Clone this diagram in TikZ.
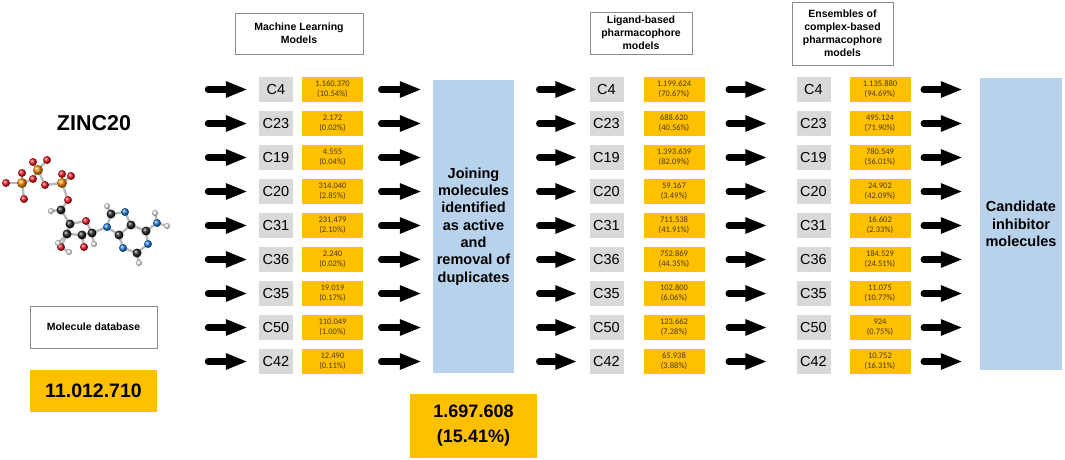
\documentclass[tikz,border=0pt]{standalone}
\usepackage{fontspec}
\setmainfont{Liberation Sans}
\newfontfamily\calfont{Carlito}
\usetikzlibrary{arrows.meta,shadings}
\definecolor{cyel}{HTML}{FFC000}
\definecolor{cgray}{HTML}{D9D9D9}
\definecolor{cblue}{HTML}{B9D2EC}
\definecolor{ytext}{HTML}{4A3810}
\definecolor{hdrline}{HTML}{8C8C8C}
\definecolor{atO}{HTML}{E81820}
\definecolor{atP}{HTML}{F08A00}
\definecolor{atC}{HTML}{222222}
\definecolor{atN}{HTML}{1E7AD8}
\definecolor{atH}{HTML}{F0F0F0}
\tikzset{
  hdr/.style={draw=hdrline, line width=0.9pt, fill=white, align=center, inner sep=0pt,
    font=\bfseries\fontsize{10.5}{13}\selectfont},
  cbox/.style={fill=cgray, minimum width=34pt, minimum height=25pt, inner sep=0pt,
    font=\fontsize{14.5}{16}\selectfont},
  ybox/.style={fill=cyel, minimum width=61pt, minimum height=25pt, inner sep=0pt, align=center,
    text=ytext, font=\calfont\fontsize{8.5}{10}\selectfont},
  bigbox/.style={fill=cblue, inner sep=0pt, align=center,
    font=\bfseries\fontsize{14.5}{17.3}\selectfont},
  fatarrow/.style={line width=6.3pt, line cap=round, -{Triangle[length=22pt,width=15pt]}},
  bondst/.style={line width=2.4pt, color=gray!55},
}
\begin{document}
\begin{tikzpicture}[x=1pt,y=-1pt]
\useasboundingbox (0,0) rectangle (1065,460);

% ---- left part ----
\node[font=\bfseries\fontsize{21.5}{24}\selectfont] (zinc) at (94,123) {ZINC20};
\node[hdr, minimum width=127pt, minimum height=42pt] (moldb) at (93.5,327) {Molecule database};
\node[fill=cyel, minimum width=127pt, minimum height=42pt, inner sep=0pt,
      font=\bfseries\fontsize{19.5}{22}\selectfont] (total) at (93.5,391) {11.012.710};

% ---- molecule (ball and stick) ----
\foreach \n/\x/\y in {O1/6/183,P1/22/183,O2/24/199,O3/22/173,O4/33/179,P2/38/170,O5/33/162,
  O6/47/160,O7/45/185,P3/62/183,O8/62/174,O9/71/176,O10/68/200,C5/61/210,H5a/51/211,
  C4p/70/224,O4p/86/221,C1p/92/233,C3p/67/234,O3p/61/247,H3o/69/252,H3/58/243,C2p/82/235,
  O2p/84/247,H1p/94/244,N9/107/227,C8/111/214,H8/107/206,N7/125/212,C5r/131/225,C4r/119/235,
  N3/123/248,C2r/137/253,H2/139/263,N1/148/244,C6/146/231,N6/157/223,H6a/155/213,H6b/167/226}
  \coordinate (\n) at (\x,\y);
\foreach \a/\b in {O1/P1,P1/O2,P1/O3,P1/O4,O4/P2,P2/O5,P2/O6,P2/O7,O7/P3,P3/O8,P3/O9,P3/O10,
  O10/C5,C5/H5a,C5/C4p,C4p/O4p,O4p/C1p,C4p/C3p,C3p/O3p,O3p/H3o,C3p/H3,C3p/C2p,C2p/O2p,C2p/C1p,
  C1p/H1p,C1p/N9,N9/C8,C8/H8,C8/N7,N7/C5r,C5r/C4r,C4r/N9,C4r/N3,N3/C2r,C2r/H2,C2r/N1,N1/C6,
  C6/C5r,C6/N6,N6/H6a,N6/H6b}
  \draw[bondst] (\a) -- (\b);
\foreach \n in {O1,O2,O3,O4,O5,O6,O7,O8,O9,O10,O4p,O3p,O2p}
  \shade[ball color=atO] (\n) circle (4pt);
\foreach \n in {P1,P2,P3}
  \shade[ball color=atP] (\n) circle (5pt);
\foreach \n in {C5,C4p,C1p,C3p,C2p,C8,C5r,C4r,C2r,C6}
  \shade[ball color=atC] (\n) circle (4.5pt);
\foreach \n in {N9,N7,N3,N1,N6}
  \shade[ball color=atN] (\n) circle (4pt);
\foreach \n in {H5a,H3o,H3,H1p,H8,H2,H6a,H6b}
  \shade[ball color=atH] (\n) circle (3pt);

% ---- headers ----
\node[hdr, minimum width=128pt, minimum height=41pt] (hml) at (299,33.5) {Machine Learning\\Models};
\node[hdr, minimum width=102pt, minimum height=42pt] (hlig) at (641,33) {Ligand-based\\pharmacophore\\models};
\node[hdr, minimum width=101pt, minimum height=63pt] (hens) at (842.5,33.5) {Ensembles of\\complex-based\\pharmacophore\\models};

% ---- big boxes ----
\node[bigbox, minimum width=81pt, minimum height=293pt] (join) at (473.5,226.5)
  {Joining\\molecules\\identified\\as active\\and\\removal of\\duplicates};
\node[bigbox, minimum width=82pt, minimum height=292pt] (cand) at (1021,224)
  {Candidate\\inhibitor\\molecules};
\node[fill=cyel, minimum width=127pt, minimum height=64pt, inner sep=0pt, align=center,
      font=\bfseries\fontsize{18}{25}\selectfont] (joined) at (473.5,426) {1.697.608\\(15.41\%)};

% ---- rows ----
\foreach \lab/\a/\b/\c/\d/\e/\f [count=\i from 0] in {
  C4/1.160.370/10.54/1.199.624/70.67/1.135.880/94.69,
  C23/2.172/0.02/688.620/40.56/495.124/71.90,
  C19/4.555/0.04/1.393.639/82.09/780.549/56.01,
  C20/314.040/2.85/59.167/3.49/24.902/42.09,
  C31/231.479/2.10/711.538/41.91/16.602/2.33,
  C36/2.240/0.02/752.869/44.35/184.529/24.51,
  C35/19.019/0.17/102.800/6.06/11.075/10.77,
  C50/110.049/1.00/123.662/7.28/924/0.75,
  C42/12.490/0.11/65.938/3.88/10.752/16.31}{
  \pgfmathsetmacro{\yy}{89.5+34*\i}
  \node[cbox] (mg\i) at (276,\yy) {\lab};
  \node[ybox] (my\i) at (332.5,\yy) {\a\\(\b\%)};
  \node[cbox] (lg\i) at (606.5,\yy) {\lab};
  \node[ybox] (ly\i) at (674,\yy) {\c\\(\d\%)};
  \node[cbox] (eg\i) at (813.5,\yy) {\lab};
  \node[ybox] (ey\i) at (880,\yy) {\e\\(\f\%)};
  \coordinate (t\i) at (208,\yy);
  \draw[fatarrow, shorten >=11pt] (t\i) -- (mg\i.west);
  \draw[fatarrow, shorten <=18pt, shorten >=11pt] (my\i.east) -- (my\i.east -| join.west);
  \draw[fatarrow, shorten <=25pt, shorten >=12pt] (lg\i.west -| join.east) -- (lg\i.west);
  \draw[fatarrow, shorten <=24pt, shorten >=29pt] (ly\i.east) -- (eg\i.west);
  \draw[fatarrow, shorten <=13pt, shorten >=17pt] (ey\i.east) -- (ey\i.east -| cand.west);
}
\end{tikzpicture}
\end{document}
